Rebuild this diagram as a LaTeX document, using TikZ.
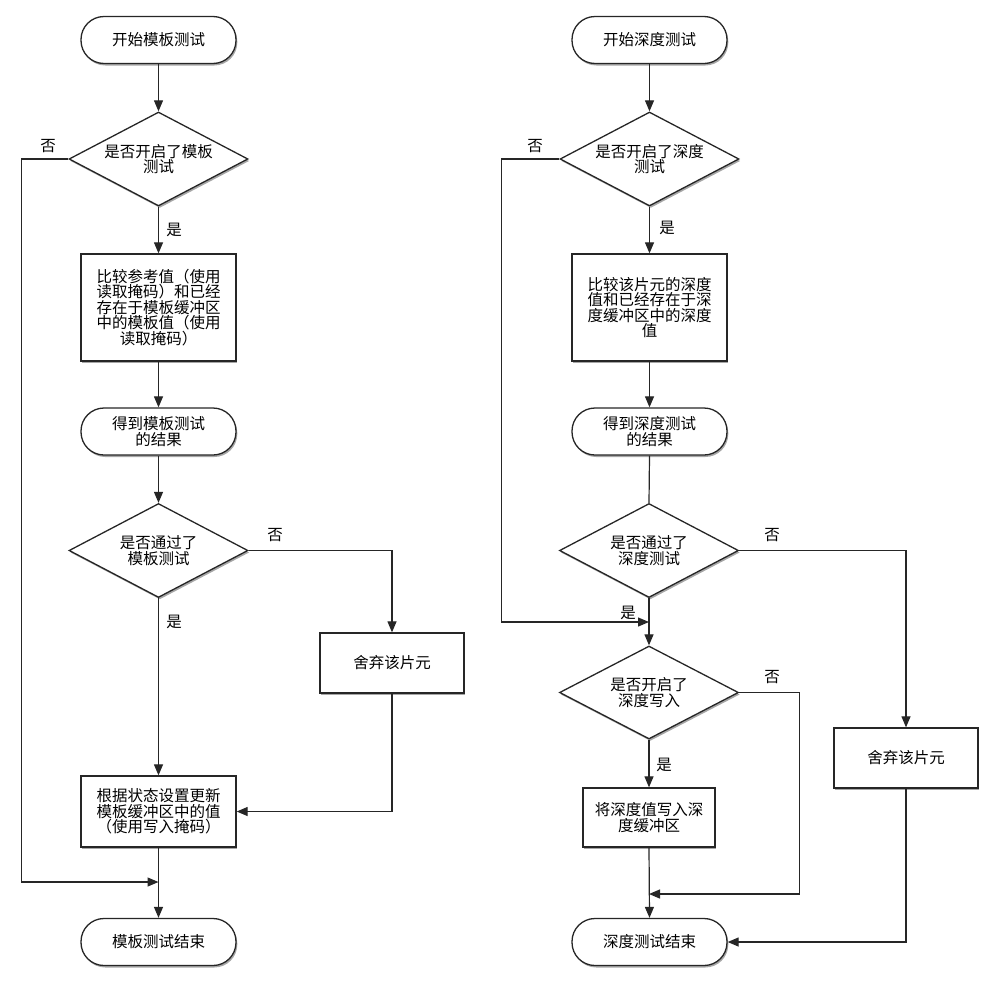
\documentclass[tikz,border=0pt]{standalone}
\usepackage{fontspec}
\setmainfont{Noto Sans CJK SC}
\usetikzlibrary{shapes.geometric,shadows,arrows.meta}
\begin{document}
\begin{tikzpicture}[x=1pt,y=-1pt,
  every node/.style={font=\fontsize{15.5pt}{15.5pt}\selectfont, text=black},
  shad/.style={drop shadow={shadow xshift=1.3pt,shadow yshift=-2pt,fill=black,opacity=0.35}},
  term/.style={draw=black!85,line width=1.3pt,fill=white,shad,rectangle,rounded corners=23pt,minimum width=155pt,minimum height=47pt,inner sep=0pt,align=center},
  proc/.style={draw=black!85,line width=1.3pt,fill=white,shad,rectangle,inner sep=0pt,align=center},
  dec/.style={draw=black!85,line width=1.3pt,fill=white,shad,diamond,aspect=1.9,minimum width=179pt,minimum height=94pt,inner sep=0pt,align=center},
  lab/.style={inner sep=0pt},
  arr/.style={draw=black!85,line width=1.2pt,-{Triangle[length=11pt,width=9pt]}},
  ln/.style={draw=black!85,line width=1.2pt}
]
\useasboundingbox (0,0) rectangle (1000,983);

% ---------- left column ----------
\node[term] (L1) at (158.5,40) {开始模板测试};
\node[dec] (Ld1) at (158.5,159) {是否开启了模板\\测试};
\node[proc,minimum width=155pt,minimum height=107pt] (Lb1) at (158.5,307.5) {比较参考值（使用\\读取掩码）和已经\\存在于模板缓冲区\\中的模板值（使用\\读取掩码）};
\node[term] (Lt2) at (158.5,431.5) {得到模板测试\\的结果};
\node[dec] (Ld2) at (158.5,550.5) {是否通过了\\模板测试};
\node[proc,minimum width=144pt,minimum height=60pt] (Ldis) at (392,663) {舍弃该片元};
\node[proc,minimum width=155pt,minimum height=71pt] (Lb3) at (158.5,811.5) {根据状态设置更新\\模板缓冲区中的值\\（使用写入掩码）};
\node[term] (Lend) at (158.5,942) {模板测试结束};
\coordinate (Lj) at (158.5,882);

\draw[arr] (L1.south) -- (Ld1.north);
\draw[arr] (Ld1.south) -- (Lb1.north);
\draw[arr] (Ld1.west) -- ++(-47,0) |- (Lj);
\draw[arr] (Lb1.south) -- (Lt2.north);
\draw[arr] (Lt2.south) -- (Ld2.north);
\draw[arr] (Ld2.south) -- (Lb3.north);
\draw[arr] (Ld2.east) -| (Ldis.north);
\draw[arr] (Ldis.south) |- (Lb3.east);
\draw[arr] (Lb3.south) -- (Lend.north);

\node[lab] (lno1) at (48,146) {否};
\node[lab] (lyes1) at (174,230) {是};
\node[lab] (lno2) at (275,535) {否};
\node[lab] (lyes2) at (174,622) {是};

% ---------- right column ----------
\node[term] (R1) at (649.5,40) {开始深度测试};
\node[dec] (Rd1) at (649.5,159) {是否开启了深度\\测试};
\node[proc,minimum width=155pt,minimum height=107pt] (Rb1) at (649.5,307.5) {比较该片元的深度\\值和已经存在于深\\度缓冲区中的深度\\值};
\node[term] (Rt2) at (649.5,431.5) {得到深度测试\\的结果};
\node[dec] (Rd2) at (649,550.5) {是否通过了\\深度测试};
\node[dec,minimum height=93pt] (Rd3) at (649,692.5) {是否开启了\\深度写入};
\node[proc,minimum width=132pt,minimum height=59pt] (Rb2) at (649,817.5) {将深度值写入深\\度缓冲区};
\node[proc,minimum width=144pt,minimum height=60pt] (Rdis) at (906,758) {舍弃该片元};
\node[term] (Rend) at (649.5,942) {深度测试结束};
\coordinate (Rj) at (649,622);
\coordinate (Rk) at (649,894);

\draw[arr] (R1.south) -- (Rd1.north);
\draw[arr] (Rd1.south) -- (Rb1.north);
\draw[arr] (Rd1.west) -- ++(-58,0) |- (Rj);
\draw[arr] (Rb1.south) -- (Rt2.north);
\draw[ln] (Rt2.south) -- (Rd2.north);
\draw[arr] (Rd2.south) -- (Rd3.north);
\draw[arr] (Rd2.east) -| (Rdis.north);
\draw[arr] (Rd3.east) -- ++(60,0) |- (Rk);
\draw[arr] (Rd3.south) -- (Rb2.north);
\draw[arr] (Rb2.south) -- (Rend.north);
\draw[arr] (Rdis.south) |- (Rend.east);

\node[lab] (rno1) at (535,146) {否};
\node[lab] (ryes1) at (667,228) {是};
\node[lab] (rno2) at (772,535) {否};
\node[lab] (ryes2) at (628,613) {是};
\node[lab] (rno3) at (772,677) {否};
\node[lab] (ryes3) at (664,765) {是};
\end{tikzpicture}
\end{document}
